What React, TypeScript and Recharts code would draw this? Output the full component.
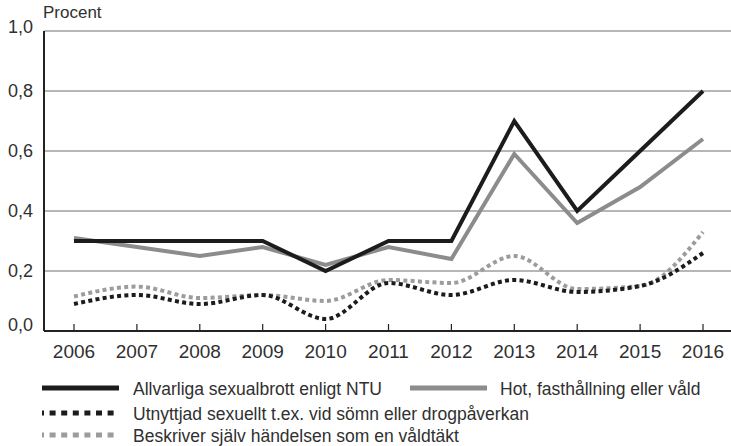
import { LineChart, Line, XAxis, YAxis, CartesianGrid } from "recharts";

// Sexualbrott 2006–2016, andel av befolkningen (procent)
const years = ["2006", "2007", "2008", "2009", "2010", "2011", "2012", "2013", "2014", "2015", "2016"];
const allvarliga = [0.3, 0.3, 0.3, 0.3, 0.2, 0.3, 0.3, 0.7, 0.4, 0.6, 0.8];
const hot = [0.31, 0.28, 0.25, 0.28, 0.22, 0.28, 0.24, 0.59, 0.36, 0.48, 0.64];
const utnyttjad = [0.09, 0.12, 0.09, 0.12, 0.04, 0.16, 0.12, 0.17, 0.13, 0.15, 0.26];
const beskriver = [0.115, 0.148, 0.11, 0.12, 0.1, 0.17, 0.16, 0.25, 0.14, 0.15, 0.33];
const yTicks = [0, 0.2, 0.4, 0.6, 0.8, 1];

const FONT = "'Liberation Sans', Arial, sans-serif";
const TEXT = "#303030";

const data = years.map((year, i) => ({
  year,
  allvarliga: allvarliga[i],
  hot: hot[i],
  utnyttjad: utnyttjad[i],
  beskriver: beskriver[i],
}));

const series = [
  { key: "beskriver", name: "Beskriver själv händelsen som en våldtäkt", color: "#9c9c9c", dash: "4 3.3", curve: "monotone" as const },
  { key: "utnyttjad", name: "Utnyttjad sexuellt t.ex. vid sömn eller drogpåverkan", color: "#1c1c1c", dash: "4 3.3", curve: "monotone" as const },
  { key: "hot", name: "Hot, fasthållning eller våld", color: "#8c8c8c", dash: undefined, curve: "linear" as const },
  { key: "allvarliga", name: "Allvarliga sexualbrott enligt NTU", color: "#1c1c1c", dash: undefined, curve: "linear" as const },
];

// legend slots: [series key, swatch x, text x, row y]
const legendSlots: [string, number, number, number][] = [
  ["allvarliga", 42, 133, 388],
  ["hot", 410, 500, 388],
  ["utnyttjad", 42, 133, 413],
  ["beskriver", 42, 133, 435],
];

const XTick = ({ x, y, payload }: any) => (
  <g>
    <line x1={x} x2={x} y1={y - 7} y2={y} stroke="#222" strokeWidth={1.2} />
    <text x={x} y={y + 27} textAnchor="middle" fontSize={19} fontFamily={FONT} fill={TEXT}>
      {payload.value}
    </text>
  </g>
);

const YTick = ({ x, y, payload }: any) => {
  const v = payload.value;
  const dy = v === 0 ? 0 : v === 1 ? 2 : 5.5;
  return (
    <text x={x - 11} y={y + dy} textAnchor="end" fontSize={18} fontFamily={FONT} fill={TEXT}>
      {v.toFixed(1).replace(".", ",")}
    </text>
  );
};

export default function App() {
  return (
    <div style={{ position: "absolute", left: 0, top: 0, width: 731, height: 446, background: "#fff" }}>
      <LineChart width={731} height={446} data={data} margin={{ top: 31, right: 0, bottom: 0, left: 0 }}>
        <CartesianGrid vertical={false} stroke="#6e6e6e" strokeWidth={1} />
        <XAxis
          dataKey="year"
          height={115}
          padding={{ left: 30, right: 28 }}
          tickSize={0}
          tickMargin={0}
          tickLine={false}
          axisLine={{ stroke: "#222", strokeWidth: 2 }}
          tick={<XTick />}
          interval={0}
        />
        <YAxis
          width={44}
          domain={[0, 1]}
          ticks={yTicks}
          tickSize={0}
          tickMargin={0}
          tickLine={false}
          axisLine={{ stroke: "#222", strokeWidth: 2 }}
          tick={<YTick />}
        />
        {series.map((s) => (
          <Line
            key={s.key}
            dataKey={s.key}
            name={s.name}
            type={s.curve}
            stroke={s.color}
            strokeWidth={4}
            strokeDasharray={s.dash}
            strokeLinecap="butt"
            strokeLinejoin="miter"
            dot={false}
            activeDot={false}
            isAnimationActive={false}
          />
        ))}
      </LineChart>
      <div
        style={{ position: "absolute", left: 43, top: 3, fontFamily: FONT, fontSize: 17, color: TEXT, lineHeight: "20px" }}
      >
        Procent
      </div>
      <svg width={731} height={446} style={{ position: "absolute", left: 0, top: 0, pointerEvents: "none" }}>
        {legendSlots.map(([key, sx, tx, ry]) => {
          const s = series.find((d) => d.key === key)!;
          return (
            <g key={key}>
              <line
                x1={sx}
                x2={sx + 77}
                y1={ry}
                y2={ry}
                stroke={s.color}
                strokeWidth={5}
                strokeDasharray={s.dash ? "6 5.6" : undefined}
                strokeDashoffset={s.dash ? 4 : undefined}
              />
              <text x={tx} y={ry + 6.5} fontSize={17.5} fontFamily={FONT} fill={TEXT}>
                {s.name}
              </text>
            </g>
          );
        })}
      </svg>
    </div>
  );
}
